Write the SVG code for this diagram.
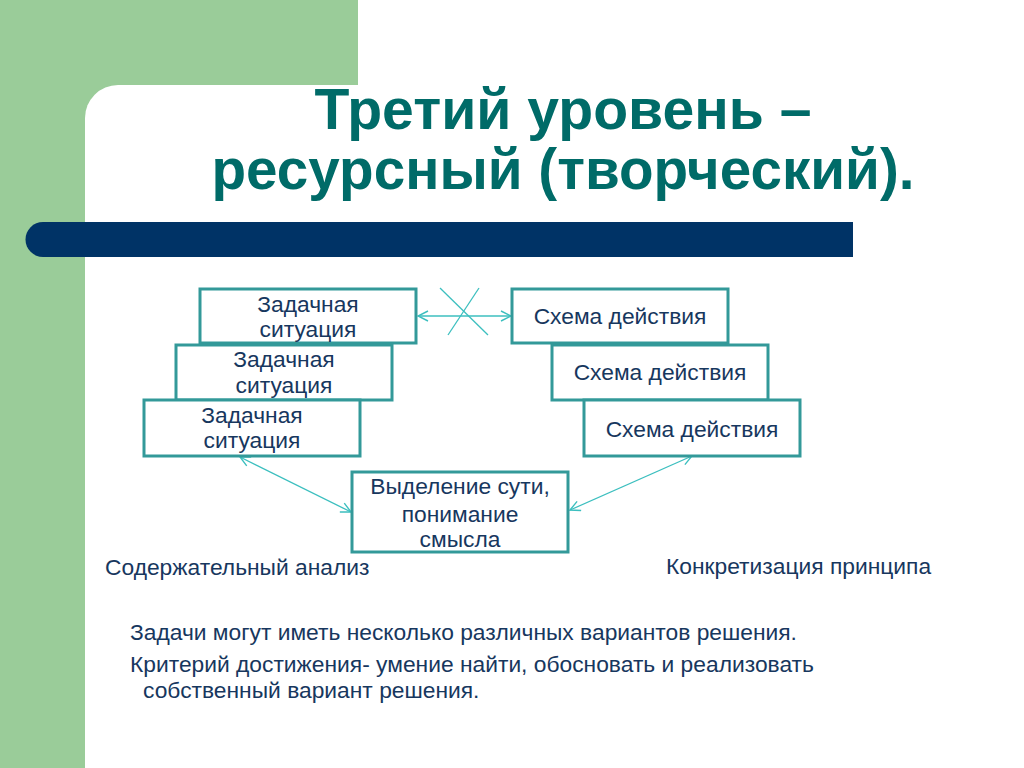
<svg xmlns="http://www.w3.org/2000/svg" width="1024" height="768" viewBox="0 0 1024 768">
<style>
.box{fill:#ffffff;stroke:#339999;stroke-width:3}
.t{font-family:"Liberation Sans",Arial,sans-serif;font-size:22.8px;fill:#17375E}
.c{text-anchor:middle}
.title{font-family:"Liberation Sans",Arial,sans-serif;font-size:57px;font-weight:bold;fill:#006B68;text-anchor:middle}
.conn{stroke:#3CBFBF;stroke-width:1.3;fill:none}
</style>
<defs>
<marker id="ah" viewBox="0 0 12 12" refX="11" refY="6" markerWidth="12" markerHeight="12" markerUnits="userSpaceOnUse" orient="auto-start-reverse">
<path d="M1,1 L11,6 L1,11" fill="none" stroke="#3CBFBF" stroke-width="1.4"/>
</marker>
</defs>
<rect x="0" y="0" width="1024" height="768" fill="#ffffff"/>
<g id="background">
<rect x="0" y="0" width="358" height="130" fill="#9ACC99"/>
<rect x="0" y="0" width="130" height="768" fill="#9ACC99"/>
<rect x="85" y="85" width="1100" height="800" rx="33" ry="33" fill="#ffffff"/>
<path d="M43,222 H853 V257 H43 A17.5,17.5 0 0 1 43,222 Z" fill="#003366"/>
</g>
<g id="title">
<text class="title" x="563" y="129" textLength="497" lengthAdjust="spacingAndGlyphs">Третий уровень –</text>
<text class="title" x="563" y="189" textLength="703" lengthAdjust="spacingAndGlyphs">ресурсный (творческий).</text>
</g>
<g id="connectors">
<line class="conn" x1="418" y1="316" x2="511" y2="316" marker-start="url(#ah)" marker-end="url(#ah)"/>
<line class="conn" x1="440" y1="288" x2="488" y2="335"/>
<line class="conn" x1="479" y1="288" x2="448" y2="335"/>
<line class="conn" x1="240" y1="457" x2="351" y2="512" marker-start="url(#ah)" marker-end="url(#ah)"/>
<line class="conn" x1="692" y1="456" x2="570" y2="510" marker-start="url(#ah)" marker-end="url(#ah)"/>
</g>
<g id="node-zs1">
<rect class="box" x="200" y="289" width="216" height="54"/>
<text class="t c" x="308" y="312">Задачная</text>
<text class="t c" x="308" y="337">ситуация</text>
</g>
<g id="node-zs2">
<rect class="box" x="176" y="345" width="216" height="55"/>
<text class="t c" x="284" y="367">Задачная</text>
<text class="t c" x="284" y="393">ситуация</text>
</g>
<g id="node-zs3">
<rect class="box" x="144" y="400" width="216" height="56"/>
<text class="t c" x="252" y="423">Задачная</text>
<text class="t c" x="252" y="448">ситуация</text>
</g>
<g id="node-sd1">
<rect class="box" x="512" y="289" width="216" height="54"/>
<text class="t c" x="620" y="324">Схема действия</text>
</g>
<g id="node-sd2">
<rect class="box" x="552" y="345" width="216" height="55"/>
<text class="t c" x="660" y="380">Схема действия</text>
</g>
<g id="node-sd3">
<rect class="box" x="584" y="400" width="216" height="56"/>
<text class="t c" x="692" y="437">Схема действия</text>
</g>
<g id="node-center">
<rect class="box" x="352" y="472" width="216" height="80"/>
<text class="t c" x="460" y="494">Выделение сути,</text>
<text class="t c" x="460" y="522">понимание</text>
<text class="t c" x="460" y="547">смысла</text>
</g>
<g id="labels">
<text class="t" x="105" y="575">Содержательный анализ</text>
<text class="t" x="666" y="574">Конкретизация принципа</text>
<text class="t" x="130" y="640">Задачи могут иметь несколько различных вариантов решения.</text>
<text class="t" x="130" y="672">Критерий достижения- умение найти, обосновать и реализовать</text>
<text class="t" x="143" y="698">собственный вариант решения.</text>
</g>
</svg>
